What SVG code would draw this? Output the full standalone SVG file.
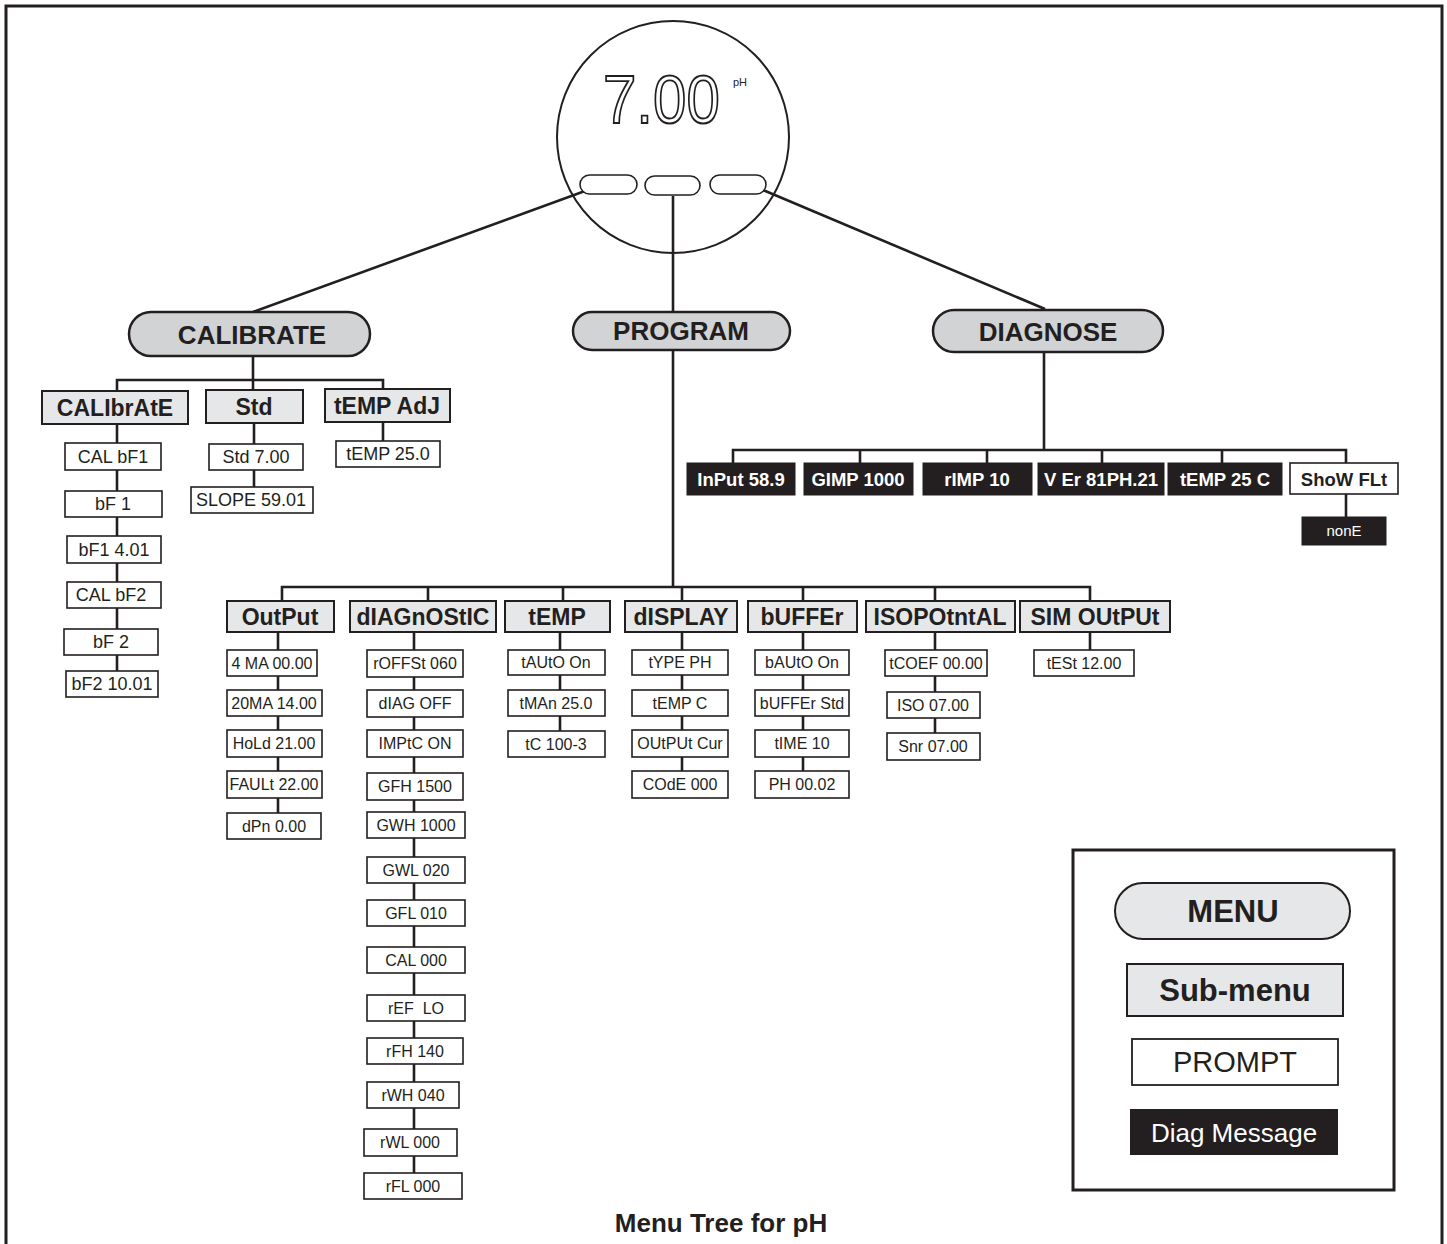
<svg xmlns="http://www.w3.org/2000/svg" width="1447" height="1244" viewBox="0 0 1447 1244">
<style>
text{font-family:"Liberation Sans",Arial,sans-serif;text-anchor:middle;fill:#231f20}
.menu rect{fill:#d1d3d4;stroke:#231f20;stroke-width:2.5}
.menu text{font-size:26px;font-weight:bold}
.sub rect{fill:#e6e7e8;stroke:#231f20;stroke-width:2}
.sub text{font-size:23px;font-weight:bold}
.pr rect{fill:#fff;stroke:#231f20;stroke-width:1.6}
.pr text{font-size:16px}
.pc rect{fill:#fff;stroke:#231f20;stroke-width:1.6}
.pc text{font-size:18px}
.dg rect{fill:#231f20;stroke:#231f20;stroke-width:1}
.dg text{font-size:18.5px;font-weight:bold;fill:#fff}
#conn line,#conn polyline{stroke:#231f20;stroke-width:2.6;fill:none}
</style>
<rect x="0" y="0" width="1447" height="1244" fill="#fff"/>
<polyline points="6,1244 6,6 1442,6 1442,1244" fill="none" stroke="#231f20" stroke-width="3"/>

<g id="conn">
<line x1="585" y1="191" x2="253" y2="312"/>
<line x1="673" y1="196" x2="673" y2="312"/>
<line x1="763" y1="190" x2="1045" y2="309"/>
<line x1="253" y1="356" x2="253" y2="380"/>
<polyline points="117,391 117,380 383,380 383,389"/>
<line x1="253" y1="380" x2="253" y2="390"/>
<line x1="117" y1="424" x2="117" y2="671"/>
<line x1="254" y1="423" x2="254" y2="487"/>
<line x1="383" y1="422" x2="383" y2="441"/>
<line x1="673" y1="350" x2="673" y2="587"/>
<polyline points="282,601 282,587 1090,587 1090,601"/>
<line x1="428" y1="587" x2="428" y2="601"/>
<line x1="563" y1="587" x2="563" y2="601"/>
<line x1="682" y1="587" x2="682" y2="601"/>
<line x1="803" y1="587" x2="803" y2="601"/>
<line x1="935" y1="587" x2="935" y2="601"/>
<line x1="278" y1="632" x2="278" y2="813"/>
<line x1="414" y1="632" x2="414" y2="1173"/>
<line x1="560" y1="632" x2="560" y2="731"/>
<line x1="682" y1="632" x2="682" y2="771"/>
<line x1="803" y1="632" x2="803" y2="771"/>
<line x1="935" y1="632" x2="935" y2="733"/>
<line x1="1090" y1="632" x2="1090" y2="650"/>
<line x1="1044" y1="352" x2="1044" y2="450"/>
<polyline points="733,463 733,450 1346,450 1346,463"/>
<line x1="860" y1="450" x2="860" y2="463"/>
<line x1="987" y1="450" x2="987" y2="463"/>
<line x1="1102" y1="450" x2="1102" y2="463"/>
<line x1="1222" y1="450" x2="1222" y2="463"/>
<line x1="1346" y1="494" x2="1346" y2="517"/>
</g>

<g id="display">
<circle cx="673" cy="137" r="116" fill="none" stroke="#231f20" stroke-width="2"/>
<text transform="translate(603,123) scale(1,1.13)" x="0" y="0" font-size="60" style="text-anchor:start;fill:#fff;stroke:#231f20;stroke-width:1.7">7.00</text>
<text x="733" y="86" font-size="11" style="text-anchor:start">pH</text>
<rect x="580" y="175" width="57" height="19" rx="9.5" fill="#fff" stroke="#231f20" stroke-width="1.6"/>
<rect x="645" y="176" width="55" height="19" rx="9.5" fill="#fff" stroke="#231f20" stroke-width="1.6"/>
<rect x="710" y="175" width="56" height="19" rx="9.5" fill="#fff" stroke="#231f20" stroke-width="1.6"/>
</g>

<g id="calibrate" class="menu"><rect x="129" y="312" width="241" height="44" rx="22"/><text x="252" y="344">CALIBRATE</text></g>
<g id="program" class="menu"><rect x="573" y="312" width="217" height="38" rx="19"/><text x="681" y="340">PROGRAM</text></g>
<g id="diagnose" class="menu"><rect x="933" y="310" width="230" height="42" rx="21"/><text x="1048" y="341">DIAGNOSE</text></g>

<g id="s-calibrate" class="sub"><rect x="42" y="391" width="146" height="33"/><text x="115" y="416">CALIbrAtE</text></g>
<g id="s-std" class="sub"><rect x="206" y="390" width="97" height="33"/><text x="254" y="415">Std</text></g>
<g id="s-tempadj" class="sub"><rect x="325" y="389" width="125" height="33"/><text x="387" y="414">tEMP AdJ</text></g>

<g id="p-calbf1" class="pc"><rect x="65" y="443" width="96" height="27"/><text x="113" y="463">CAL bF1</text></g>
<g id="p-bf1" class="pc"><rect x="65" y="491" width="97" height="26"/><text x="113" y="510">bF 1</text></g>
<g id="p-bf1v" class="pc"><rect x="67" y="536" width="94" height="27"/><text x="114" y="556">bF1 4.01</text></g>
<g id="p-calbf2" class="pc"><rect x="67" y="582" width="94" height="26"/><text x="111" y="601">CAL bF2</text></g>
<g id="p-bf2" class="pc"><rect x="64" y="629" width="94" height="26"/><text x="111" y="648">bF 2</text></g>
<g id="p-bf2v" class="pc"><rect x="66" y="671" width="92" height="26"/><text x="112" y="690">bF2 10.01</text></g>
<g id="p-std700" class="pc"><rect x="209" y="444" width="94" height="26"/><text x="256" y="463">Std 7.00</text></g>
<g id="p-slope" class="pc"><rect x="191" y="487" width="122" height="26"/><text x="251" y="506">SLOPE 59.01</text></g>
<g id="p-temp250" class="pc"><rect x="336" y="441" width="104" height="26"/><text x="388" y="460">tEMP 25.0</text></g>

<g id="s-output" class="sub"><rect x="227" y="601" width="107" height="31"/><text x="280" y="625">OutPut</text></g>
<g id="s-diagnostic" class="sub"><rect x="350" y="601" width="146" height="31"/><text x="423" y="625">dIAGnOStIC</text></g>
<g id="s-temp" class="sub"><rect x="505" y="601" width="105" height="31"/><text x="557" y="625">tEMP</text></g>
<g id="s-display" class="sub"><rect x="625" y="601" width="112" height="31"/><text x="681" y="625">dISPLAY</text></g>
<g id="s-buffer" class="sub"><rect x="748" y="601" width="109" height="31"/><text x="802" y="625">bUFFEr</text></g>
<g id="s-isopot" class="sub"><rect x="866" y="601" width="149" height="31"/><text x="940" y="625">ISOPOtntAL</text></g>
<g id="s-simout" class="sub"><rect x="1020" y="601" width="150" height="31"/><text x="1095" y="625">SIM OUtPUt</text></g>

<g id="p-4ma" class="pr"><rect x="227" y="650" width="90" height="26"/><text x="272" y="669">4 MA 00.00</text></g>
<g id="p-20ma" class="pr"><rect x="227" y="690" width="95" height="26"/><text x="274" y="709">20MA 14.00</text></g>
<g id="p-hold" class="pr"><rect x="227" y="730" width="95" height="27"/><text x="274" y="749">HoLd 21.00</text></g>
<g id="p-fault" class="pr"><rect x="227" y="771" width="95" height="27"/><text x="274" y="790">FAULt 22.00</text></g>
<g id="p-dpn" class="pr"><rect x="227" y="813" width="94" height="26"/><text x="274" y="832">dPn 0.00</text></g>

<g id="p-roffst" class="pr"><rect x="367" y="650" width="96" height="27"/><text x="415" y="669">rOFFSt 060</text></g>
<g id="p-diagoff" class="pr"><rect x="367" y="690" width="96" height="27"/><text x="415" y="709">dIAG OFF</text></g>
<g id="p-imptc" class="pr"><rect x="367" y="730" width="96" height="27"/><text x="415" y="749">IMPtC ON</text></g>
<g id="p-gfh" class="pr"><rect x="367" y="773" width="96" height="27"/><text x="415" y="792">GFH 1500</text></g>
<g id="p-gwh" class="pr"><rect x="367" y="812" width="98" height="26"/><text x="416" y="831">GWH 1000</text></g>
<g id="p-gwl" class="pr"><rect x="367" y="857" width="98" height="26"/><text x="416" y="876">GWL 020</text></g>
<g id="p-gfl" class="pr"><rect x="367" y="900" width="98" height="26"/><text x="416" y="919">GFL 010</text></g>
<g id="p-cal000" class="pr"><rect x="367" y="947" width="98" height="26"/><text x="416" y="966">CAL 000</text></g>
<g id="p-ref" class="pr"><rect x="367" y="995" width="98" height="26"/><text x="416" y="1014" xml:space="preserve">rEF  LO</text></g>
<g id="p-rfh" class="pr"><rect x="367" y="1038" width="96" height="26"/><text x="415" y="1057">rFH 140</text></g>
<g id="p-rwh" class="pr"><rect x="367" y="1082" width="92" height="26"/><text x="413" y="1101">rWH 040</text></g>
<g id="p-rwl" class="pr"><rect x="364" y="1129" width="93" height="27"/><text x="410" y="1148">rWL 000</text></g>
<g id="p-rfl" class="pr"><rect x="364" y="1173" width="98" height="26"/><text x="413" y="1192">rFL 000</text></g>

<g id="p-tauto" class="pr"><rect x="508" y="650" width="97" height="25"/><text x="556" y="668">tAUtO On</text></g>
<g id="p-tman" class="pr"><rect x="508" y="690" width="97" height="26"/><text x="556" y="709">tMAn 25.0</text></g>
<g id="p-tc" class="pr"><rect x="508" y="731" width="97" height="26"/><text x="556" y="750">tC 100-3</text></g>

<g id="p-type" class="pr"><rect x="632" y="650" width="96" height="25"/><text x="680" y="668">tYPE PH</text></g>
<g id="p-tempc" class="pr"><rect x="632" y="690" width="96" height="26"/><text x="680" y="709">tEMP C</text></g>
<g id="p-outcur" class="pr"><rect x="632" y="730" width="96" height="27"/><text x="680" y="749">OUtPUt Cur</text></g>
<g id="p-code" class="pr"><rect x="632" y="771" width="96" height="27"/><text x="680" y="790">COdE 000</text></g>

<g id="p-bauto" class="pr"><rect x="755" y="650" width="94" height="25"/><text x="802" y="668">bAUtO On</text></g>
<g id="p-bufstd" class="pr"><rect x="755" y="690" width="94" height="26"/><text x="802" y="709">bUFFEr Std</text></g>
<g id="p-time" class="pr"><rect x="755" y="730" width="94" height="27"/><text x="802" y="749">tIME 10</text></g>
<g id="p-ph" class="pr"><rect x="755" y="771" width="94" height="27"/><text x="802" y="790">PH 00.02</text></g>

<g id="p-tcoef" class="pr"><rect x="885" y="650" width="102" height="26"/><text x="936" y="669">tCOEF 00.00</text></g>
<g id="p-iso" class="pr"><rect x="887" y="692" width="93" height="26"/><text x="933" y="711">ISO 07.00</text></g>
<g id="p-snr" class="pr"><rect x="887" y="733" width="93" height="27"/><text x="933" y="752">Snr 07.00</text></g>

<g id="p-test" class="pr"><rect x="1034" y="650" width="100" height="26"/><text x="1084" y="669">tESt 12.00</text></g>

<g id="d-input" class="dg"><rect x="687" y="463" width="108" height="32"/><text x="741" y="486">InPut 58.9</text></g>
<g id="d-gimp" class="dg"><rect x="804" y="463" width="109" height="32"/><text x="858" y="486">GIMP 1000</text></g>
<g id="d-rimp" class="dg"><rect x="923" y="463" width="109" height="32"/><text x="977" y="486">rIMP 10</text></g>
<g id="d-ver" class="dg"><rect x="1038" y="463" width="126" height="32"/><text x="1101" y="486">V Er 81PH.21</text></g>
<g id="d-temp" class="dg"><rect x="1168" y="463" width="114" height="32"/><text x="1225" y="486">tEMP 25 C</text></g>
<g id="d-showflt"><rect x="1290" y="463" width="108" height="31" fill="#fff" stroke="#231f20" stroke-width="1.6"/><text x="1344" y="486" font-size="18.5" font-weight="bold">ShoW FLt</text></g>
<g id="d-none" class="dg"><rect x="1302" y="517" width="84" height="28"/><text x="1344" y="536" style="font-size:15px;font-weight:normal">nonE</text></g>

<g id="legend">
<rect x="1073" y="850" width="321" height="340" fill="#fff" stroke="#231f20" stroke-width="3"/>
<rect x="1115" y="883" width="235" height="56" rx="28" fill="#e6e7e8" stroke="#231f20" stroke-width="2"/>
<text x="1233" y="922" font-size="31" font-weight="bold">MENU</text>
<rect x="1127" y="964" width="216" height="52" fill="#e6e7e8" stroke="#231f20" stroke-width="2"/>
<text x="1235" y="1001" font-size="31" font-weight="bold">Sub-menu</text>
<rect x="1132" y="1039" width="206" height="46" fill="#fff" stroke="#231f20" stroke-width="1.8"/>
<text x="1235" y="1072" font-size="29">PROMPT</text>
<rect x="1130" y="1109" width="208" height="46" fill="#231f20"/>
<text x="1234" y="1142" font-size="26" style="fill:#fff">Diag Message</text>
</g>

<text x="721" y="1232" font-size="26" font-weight="bold">Menu Tree for pH</text>
</svg>
